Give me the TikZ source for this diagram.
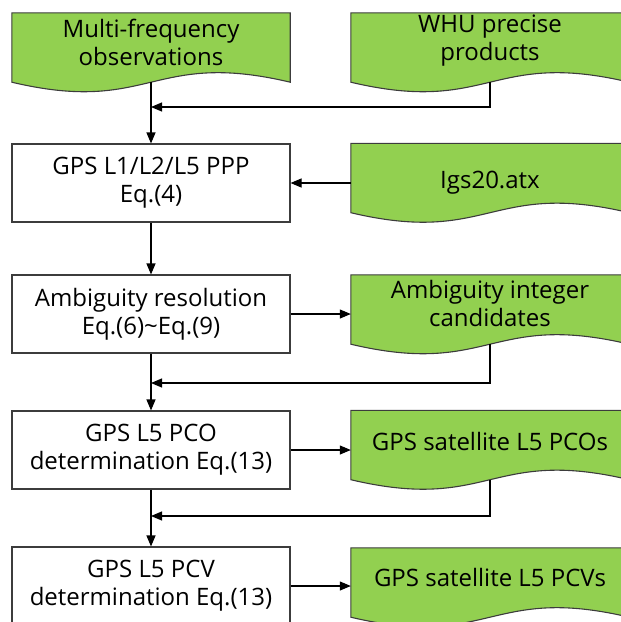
\documentclass[tikz,border=0pt]{standalone}
\usepackage{fontspec}
\setmainfont{Open Sans}
\usetikzlibrary{arrows.meta,backgrounds}
\definecolor{docgreen}{RGB}{146,208,80}
\definecolor{edge}{RGB}{60,60,60}
\newcommand{\txt}{\fontsize{24pt}{28pt}\selectfont}
\tikzset{
  box/.style={draw=edge, line width=1.1pt, fill=white, minimum width=278pt, minimum height=78pt, inner sep=0pt, align=center, font=\txt},
  doc/.style={minimum width=278pt, minimum height=69pt, inner sep=0pt},
  doctext/.style={align=center, font=\txt, inner sep=0pt},
  docshape/.style={draw=edge, line width=1.1pt, fill=docgreen},
  arr/.style={-{Triangle[length=11pt,width=9pt]}, line width=1.1pt, black}
}
\begin{document}
\begin{tikzpicture}[x=1pt,y=-1pt]
\useasboundingbox (0,0) rectangle (621,622);
\clip (0,0) rectangle (621,622);
% document nodes (straight part of the shape)
\node[doc, label={[doctext,yshift=5.5pt]center:Multi-frequency\\observations}] (obs) at (151,47.5) {};
\node[doc, label={[doctext,yshift=6.5pt]center:WHU precise\\products}] (whu) at (490,47.5) {};
\node[doc, label={[doctext,yshift=-5pt]center:Igs20.atx}] (igs) at (490,178) {};
\node[doc, label={[doctext,yshift=6.5pt]center:Ambiguity integer\\candidates}] (cand) at (490,309.5) {};
\node[doc, label={[doctext,yshift=4pt]center:GPS satellite L5 PCOs}] (pco) at (490,445) {};
\node[doc, label={[doctext,yshift=5.5pt]center:GPS satellite L5 PCVs}] (pcv) at (490,582.5) {};
% process boxes
\node[box] (ppp) at (151,183) {GPS L1/L2/L5 PPP\\Eq.(4)};
\node[box] (ar) at (151,314) {Ambiguity resolution\\Eq.(6)\textasciitilde Eq.(9)};
\node[box] (pcod) at (151,450) {GPS L5 PCO\\determination Eq.(13)};
\node[box] (pcvd) at (151,586) {GPS L5 PCV\\determination Eq.(13)};
% document shapes
\begin{scope}[on background layer]
\clip (0,0) rectangle (621,622);
\foreach \n in {obs,whu,igs,cand,pco,pcv}{
  \draw[docshape] (\n.north west) -- (\n.north east) -- (\n.south east)
    .. controls ([yshift=33pt]\n.south) and ([yshift=-33pt]\n.south) .. (\n.south west) -- cycle;
}
\end{scope}
% junction points on the main line
\coordinate (j1) at (151,107);
\coordinate (j2) at (151,383);
\coordinate (j3) at (151,516);
% connectors
\draw[arr] (obs.south) -- (ppp.north);
\draw[arr] (whu.south) |- (j1);
\draw[arr] (ppp.east -| igs.west) -- (ppp.east);
\draw[arr] (ppp.south) -- (ar.north);
\draw[arr] (ar.east) -- (ar.east -| cand.west);
\draw[arr] (cand.south) |- (j2);
\draw[arr] (ar.south) -- (pcod.north);
\draw[arr] (pcod.east) -- (pcod.east -| pco.west);
\draw[arr] (pco.south) |- (j3);
\draw[arr] (pcod.south) -- (pcvd.north);
\draw[arr] (pcvd.east) -- (pcvd.east -| pcv.west);
\end{tikzpicture}
\end{document}
